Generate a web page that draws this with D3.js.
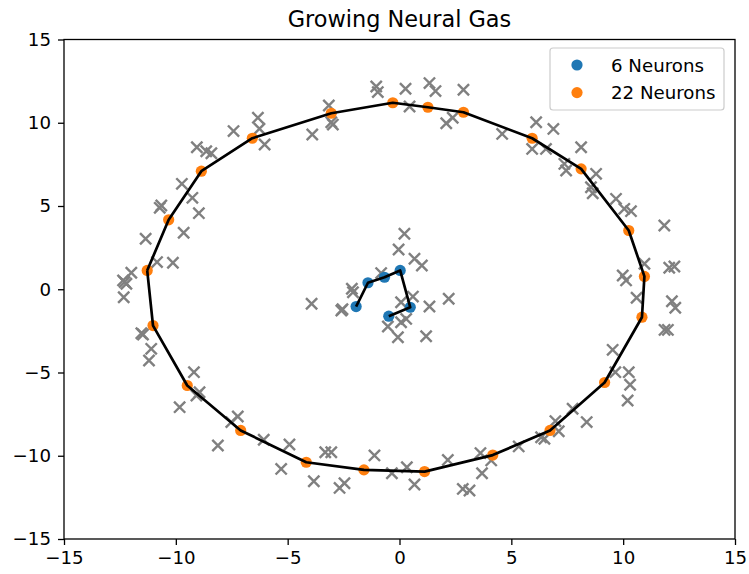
<!DOCTYPE html>
<html>
<head>
<meta charset="utf-8">
<script src="https://cdn.jsdelivr.net/npm/d3@7"></script>
<style>
  body { margin: 0; background: #fff; }
  svg { font-family: "DejaVu Sans", sans-serif; }
</style>
</head>
<body>
<div class="container"></div>
<script>
// data

var sampleX = [0.22, -0.04, 0.67, 1.0, -0.82, -2.13, -2.08, -2.6, -2.55, 0.07, 0.6, 1.34, 2.2, 0.3, 0.07, -0.52, -0.07, 1.19, -3.93,
  -1.04, -0.97, -3.16, -3.05, -2.98, -3.9, -6.33, -6.26, -6.03, -7.42, -9.06, -8.64, -8.41, -9.73, -9.26, -8.97, -10.72, -10.65, -9.65, -11.35, -10.84, -10.13, -11.99, -12.29, -12.21, -12.36,
  -12.33, -11.54, -11.47, -11.1, -11.2, -9.19, -9.83, -8.94, -9.08, -8.12, -7.23, -7.52, -6.07, -4.92, -5.29, -3.83, -3.32, -3.05, -2.68, -2.46, -1.12, -0.34,
  0.33, 0.67, 2.16, 2.83, 3.13, 3.69, 3.62, 4.1, 5.33, 6.33, 6.48, 6.97, 7.12, 7.74, 8.37, 9.53, 9.65, 10.25, 10.31, 10.2, 10.6, 12.18, 12.33, 11.85, 12.0,
  8.64, 9.68, 10.05, 10.35, 11.84, 10.95, 9.98, 10.13, 12.06, 12.29,
  0.27, 1.34, 1.61, 2.86, 0.45, 2.09, 2.38, 4.59, 6.11, 6.88, 5.93, 6.55, 8.12, 7.37, 7.45, 8.79, 8.56];
var sampleY = [3.33, 2.39, 1.83, 1.43, 0.97, 0.03, -0.18, -1.28, -1.2, -0.78, -0.44, -1.04, -0.57, -1.78, -1.98, -2.24, -2.88, -2.82, -0.87,
  12.18, 11.84, 11.04, 10.03, 9.89, 9.29, 10.3, 9.64, 8.69, 9.5, 8.53, 8.29, 8.17, 6.33, 5.49, 4.57, 4.89, 5.03, 3.39, 3.03, 1.63, 1.59, 0.99, 0.43, 0.33, 0.53,
  -0.48, -2.64, -2.72, -3.58, -4.28, -4.98, -7.08, -6.18, -6.38, -9.38, -7.64, -7.98, -9.04, -9.32, -10.79, -11.53, -9.79, -9.79, -11.93, -11.65, -9.98, -11.05,
  -10.69, -11.73, -10.25, -11.99, -12.09, -11.05, -9.84, -10.28, -9.44, -8.89, -8.98, -7.92, -8.53, -7.18, -7.98, -3.64, -4.98, -4.98, -5.74, -6.68, -0.51, -0.72, -1.11, -2.44, -2.44,
  5.77, 5.43, 4.83, 4.69, 3.83, 1.53, 0.83, 0.53, 1.29, 1.37,
  12.04, 12.38, 11.9, 11.98, 10.98, 9.97, 10.3, 9.33, 10.03, 9.63, 8.43, 8.43, 8.53, 7.53, 7.13, 6.93, 6.13];

// 6 neurons, open chain
var small_x = [-1.94, -1.41, -0.67, 0.03, 0.48, -0.48];
var small_y = [-1.04, 0.39, 0.72, 1.13, -1.08, -1.62];

// 22 neurons, closed ring
var big_x = [-11.28, -10.32, -8.86, -6.58, -3.05, -0.3, 1.27, 2.86, 5.93, 8.12, 10.25,
  10.95, 10.84, 9.17, 6.73, 4.17, 1.12, -1.59, -4.17, -7.1, -9.49, -11.02];
var big_y = [1.13, 4.17, 7.09, 9.07, 10.57, 11.2, 10.93, 10.63, 9.07, 7.23, 3.53,
  0.77, -1.68, -5.6, -8.48, -9.96, -10.95, -10.85, -10.39, -8.48, -5.78, -2.18];

var ticks = [-15, -10, -5, 0, 5, 10, 15];
var legendLabels = ["6 Neurons", "22 Neurons"];
var colors = ["#1f77b4", "#ff7f0e"];

var width = 749;
var height = 574;
var pLeft = 64, pRight = 735, pTop = 39.5, pBottom = 539;

var svg = d3.select(".container").append("svg")
    .attr("width", width)
    .attr("height", height);

var x = d3.scaleLinear().domain([-15, 15]).range([pLeft, pRight]);
var y = d3.scaleLinear().domain([-15, 15]).range([pBottom, pTop]);

// samples
var samples = sampleX.map(function(v, i) { return [v, sampleY[i]]; });
var c = 5.6;
svg.append("g").selectAll("path").data(samples)
  .enter().append("path")
  .attr("d", function(d) {
    var px = x(d[0]), py = y(d[1]);
    return "M" + (px - c) + "," + (py - c) + "L" + (px + c) + "," + (py + c) +
      "M" + (px - c) + "," + (py + c) + "L" + (px + c) + "," + (py - c);
  })
  .attr("stroke", "gray")
  .attr("stroke-width", 2.4)
  .attr("fill", "none");

var small = small_x.map(function(v, i) { return [v, small_y[i]]; });
var big = big_x.map(function(v, i) { return [v, big_y[i]]; });

svg.append("g").selectAll("circle").data(small)
  .enter().append("circle")
  .attr("cx", function(d) { return x(d[0]); })
  .attr("cy", function(d) { return y(d[1]); })
  .attr("r", 5.6)
  .attr("fill", colors[0]);

svg.append("g").selectAll("circle").data(big)
  .enter().append("circle")
  .attr("cx", function(d) { return x(d[0]); })
  .attr("cy", function(d) { return y(d[1]); })
  .attr("r", 5.6)
  .attr("fill", colors[1]);

var line = d3.line().x(function(d) { return x(d[0]); }).y(function(d) { return y(d[1]); });

svg.append("path").datum(small)
  .attr("d", line)
  .attr("fill", "none")
  .attr("stroke", "black")
  .attr("stroke-width", 2.7)
  .attr("stroke-linejoin", "round");

svg.append("path").datum(big.concat([big[0]]))
  .attr("d", line)
  .attr("fill", "none")
  .attr("stroke", "black")
  .attr("stroke-width", 2.7)
  .attr("stroke-linejoin", "round");

// frame
svg.append("rect")
  .attr("x", pLeft).attr("y", pTop)
  .attr("width", pRight - pLeft).attr("height", pBottom - pTop)
  .attr("fill", "none")
  .attr("stroke", "black")
  .attr("stroke-width", 1.3);

// axes
var xAxis = d3.axisBottom(x).tickValues(ticks).tickSize(6).tickPadding(6);
var yAxis = d3.axisLeft(y).tickValues(ticks).tickSize(6).tickPadding(7);

var gx = svg.append("g").attr("transform", "translate(0," + pBottom + ")").call(xAxis);
var gy = svg.append("g").attr("transform", "translate(" + pLeft + ",0)").call(yAxis);

[gx, gy].forEach(function(g) {
  g.select(".domain").remove();
  g.selectAll("line").attr("stroke", "black").attr("stroke-width", 1.3);
  g.selectAll("text")
    .attr("fill", "black")
    .style("font-family", "DejaVu Sans")
    .style("font-size", "18.2px");
});

// title
svg.append("text")
  .attr("x", (pLeft + pRight) / 2)
  .attr("y", 27)
  .attr("text-anchor", "middle")
  .style("font-size", "22.4px")
  .text("Growing Neural Gas");

// legend
var lg = svg.append("g");
lg.append("rect")
  .attr("x", 550).attr("y", 48)
  .attr("width", 174).attr("height", 62)
  .attr("rx", 3)
  .attr("fill", "white")
  .attr("fill-opacity", 0.8)
  .attr("stroke", "#cccccc")
  .attr("stroke-width", 1.2);

var items = lg.selectAll("g.item").data(legendLabels)
  .enter().append("g")
  .attr("class", "item")
  .attr("transform", function(d, i) { return "translate(0," + (65 + i * 27.6) + ")"; });

items.append("circle")
  .attr("cx", 577)
  .attr("r", 5.6)
  .attr("fill", function(d, i) { return colors[i]; });

items.append("text")
  .attr("x", 611)
  .attr("y", 6.5)
  .style("font-size", "18.2px")
  .text(function(d) { return d; });
</script>
</body>
</html>
